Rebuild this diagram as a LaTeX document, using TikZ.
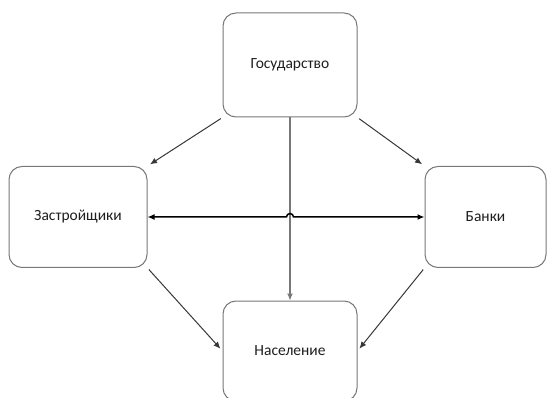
\documentclass[tikz,border=0pt]{standalone}
\usepackage{fontspec}
\setmainfont{Carlito}
\usepackage{tikz}
\usetikzlibrary{arrows.meta, positioning, calc}
\definecolor{boxgray}{RGB}{120, 120, 120}
\definecolor{linegray}{RGB}{55, 55, 55}
\definecolor{vertgray}{RGB}{120, 120, 120}
\definecolor{textdark}{RGB}{30, 30, 30}
\tikzset{
  actor/.style   = {rectangle, rounded corners=13pt, draw=boxgray, line width=1pt, fill=white, align=center, text=textdark, font=\fontsize{15.5}{18}\selectfont},
  link/.style    = {-{Latex[length=7pt, width=6pt]}, linegray, line width=1pt, shorten <=2pt, shorten >=3pt},
  linkmain/.style= {{Latex[length=7pt, width=6pt]}-{Latex[length=7pt, width=6pt]}, black, line width=1.5pt},
  linkvert/.style= {-{Latex[length=7pt, width=6pt]}, vertgray, line width=1.1pt},
}

\begin{document}
\begin{tikzpicture}[x=1pt, y=-1pt]
  % 边界框与原图一致
  \useasboundingbox (0,0) rectangle (549,398);

  \node[actor, minimum width=134pt, minimum height=104pt] (gos) at (290,65)  {Государство};
  \node[actor, minimum width=138pt, minimum height=101pt] (zas) at (78,217)  {Застройщики};
  \node[actor, minimum width=121pt, minimum height=101pt] (ban) at (485.5,217) {Банки};
  \node[actor, minimum width=134pt, minimum height=100pt] (nas) at (290,351) {Население};

  \draw[link] (gos.south west) -- (zas.north east);
  \draw[link] (gos.south east) -- (ban.north west);
  \draw[linkvert] (gos.south) -- (nas.north);

  \coordinate (hop) at (gos.south |- zas.east);
  \draw[linkmain] (zas.east) -- ([xshift=-3.5]hop) arc[start angle=180, end angle=360, radius=3.5] -- (ban.west);

  \draw[link] (zas.south east) -- (nas.west);
  \draw[link] (ban.south west) -- (nas.east);
\end{tikzpicture}
\end{document}
